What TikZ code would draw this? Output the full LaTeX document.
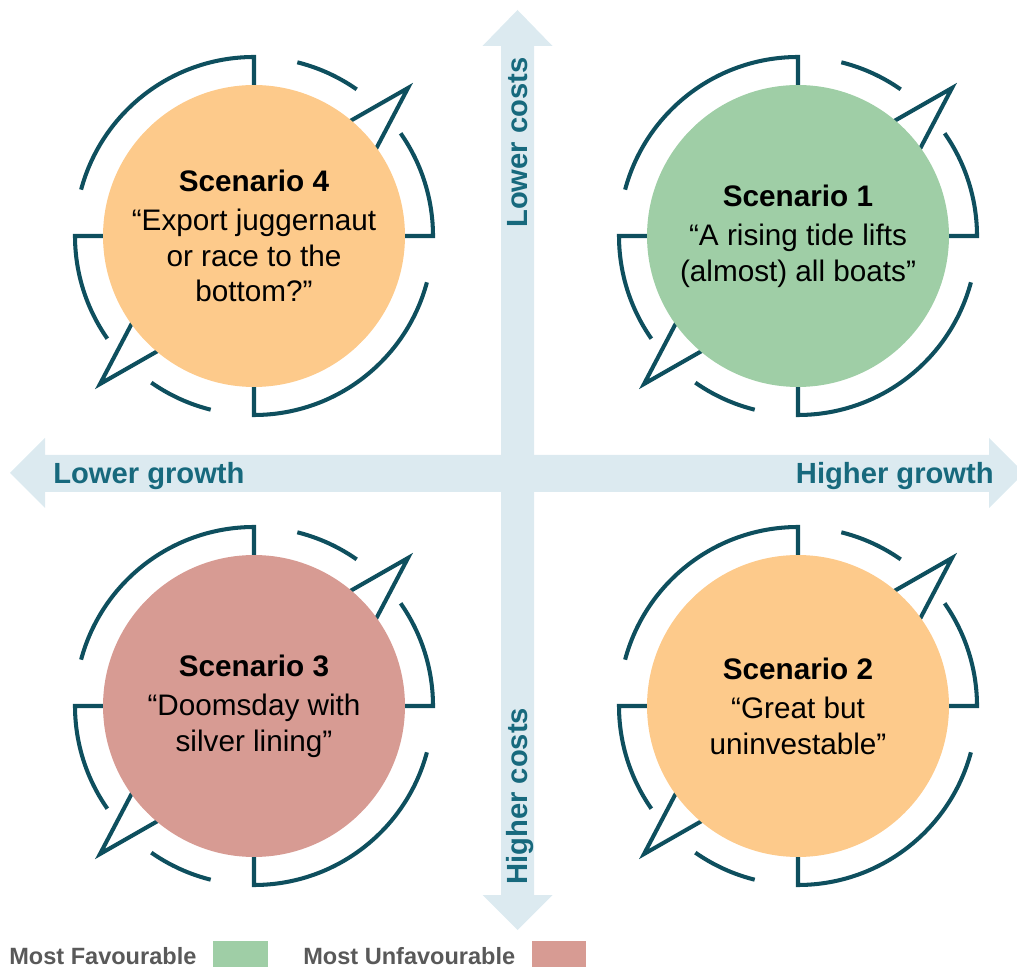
\documentclass[tikz,border=0pt]{standalone}
\usepackage{xcolor}
\usepackage{fontspec}
\setmainfont{Liberation Sans}
\usepackage{tikz}

\definecolor{ringteal}{HTML}{0E4F5E}
\definecolor{axisfill}{HTML}{DCEAF0}
\definecolor{labelteal}{HTML}{17697D}
\definecolor{scenorange}{HTML}{FDCA8B}
\definecolor{scengreen}{HTML}{9FCEA6}
\definecolor{scenred}{HTML}{D79B93}
\definecolor{legendgray}{HTML}{595959}

% open ring with two pointers round each scenario
\tikzset{
  pics/cyclering/.style={code={
    \foreach \r in {0,180}{
      \begin{scope}[rotate=\r]
        \draw[ringline] (0:151) -- (0:179) arc[start angle=0,end angle=35,radius=179];
        \draw[ringline] (55:179) arc[start angle=55,end angle=76,radius=179];
        \draw[ringline] (90:151) -- (90:179) arc[start angle=90,end angle=165,radius=179];
        \draw[ringline] (70,100) -- (154,148) -- (107.5,59.5);
      \end{scope}
    }
  }}
}

\begin{document}
\begin{tikzpicture}[x=0.02cm,y=0.02cm,
    ringline/.style={draw=ringteal,line width=2.3pt},
    scen/.style={circle,inner sep=0pt,minimum size=6.04cm,align=center,
      font=\fontsize{16.9}{20.3}\selectfont},
    axislabel/.style={inner sep=0pt,text=labelteal,
      font=\fontsize{16.6}{20}\selectfont\bfseries},
    legendlabel/.style={inner sep=0pt,anchor=base west,text=legendgray,
      font=\fontsize{13.4}{16}\selectfont\bfseries}]
    \useasboundingbox (0,0) rectangle (1017,967);

    % axes
    \fill[axisfill] (517.5,957) -- (552.5,921) -- (534,921) -- (534,72) -- (552.5,72)
        -- (517.5,37) -- (482.5,72) -- (501,72) -- (501,921) -- (482.5,921) -- cycle;
    \fill[axisfill] (10,494) -- (45,529) -- (45,512) -- (989,512) -- (989,529)
        -- (1024,494) -- (989,459) -- (989,475) -- (45,475) -- (45,459) -- cycle;

    % scenario centres
    \coordinate (c4) at (254,731);
    \coordinate (c1) at (798,731);
    \coordinate (c3) at (254,261);
    \coordinate (c2) at (798,261);

    \foreach \c in {c1,c2,c3,c4}
        \pic at (\c) {cyclering};

    \node[scen,fill=scengreen] (s1) at (c1) {\textbf{Scenario 1}\\[2pt]“A rising tide lifts\\(almost) all boats”};
    \node[scen,fill=scenorange] (s2) at (c2) {\textbf{Scenario 2}\\[2pt]“Great but\\uninvestable”};
    \node[scen,fill=scenred] (s3) at (c3) {\textbf{Scenario 3}\\[2pt]“Doomsday with\\silver lining”};
    \node[scen,fill=scenorange] (s4) at (c4) {\textbf{Scenario 4}\\[2pt]“Export juggernaut\\or race to the\\bottom?”};

    % axis labels
    \node[axislabel,anchor=base west] (lgrowth) at (53,483) {Lower growth};
    \node[axislabel,anchor=base east] (hgrowth) at (994,483) {Higher growth};
    \node[axislabel,anchor=base west,rotate=90] (lcosts) at (527,739) {Lower costs};
    \node[axislabel,anchor=base west,rotate=90] (hcosts) at (527,82) {Higher costs};

    % legend
    \node[legendlabel] (fav) at (9,3) {Most Favourable};
    \fill[scengreen] (213,0) rectangle (268,26);
    \node[legendlabel] (unfav) at (303,3) {Most Unfavourable};
    \fill[scenred] (532,0) rectangle (586,26);
\end{tikzpicture}
\end{document}
